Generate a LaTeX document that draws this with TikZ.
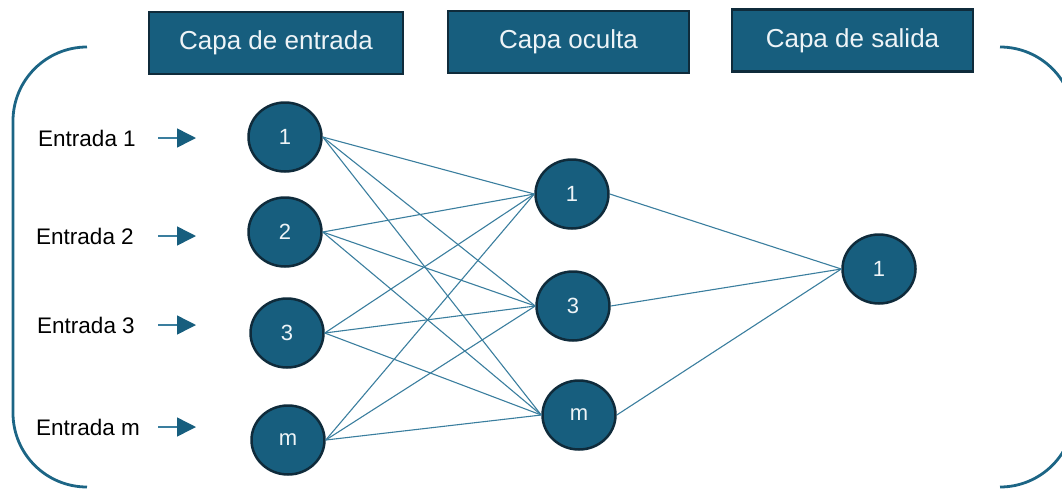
\documentclass[tikz,border=0pt]{standalone}
\usepackage{fontspec}
\setmainfont{Liberation Sans}
\usetikzlibrary{arrows.meta,shapes.geometric}
\definecolor{layerblue}{HTML}{175E7E}
\definecolor{edgenavy}{HTML}{0F2B3B}
\definecolor{wireblue}{HTML}{3A7E9E}
\definecolor{framecol}{HTML}{1C6585}
\definecolor{labeltext}{HTML}{EEF4F7}
\begin{document}
\begin{tikzpicture}[x=1pt,y=-1pt,
  header/.style={draw=edgenavy, line width=2.2pt, fill=layerblue, text=labeltext,
    minimum height=62pt, inner sep=0pt, font=\fontsize{26}{30}\selectfont},
  neuron/.style={ellipse, draw=edgenavy, line width=2.5pt, fill=layerblue, text=labeltext,
    minimum width=73pt, minimum height=69pt, inner sep=0pt, font=\fontsize{22}{26}\selectfont},
  inputlabel/.style={inner sep=0pt, text=black, font=\fontsize{22.5}{26}\selectfont},
  wire/.style={draw=wireblue, line width=1.1pt},
  inarrow/.style={draw=wireblue, line width=1.5pt,
    -{Triangle[length=19pt,width=19pt,color=layerblue]}},
  bracket/.style={draw=framecol, line width=2.8pt, rounded corners=74pt}]
\useasboundingbox (0,0) rectangle (1062,488);

% layer titles
\node[header, minimum width=254pt] (hin)  at (276,43)   {Capa de entrada};
\node[header, minimum width=241pt] (hhid) at (568.5,42) {Capa oculta};
\node[header, minimum width=241pt] (hout) at (852.5,40.5) {Capa de salida};

% enclosing brackets
\draw[bracket] (87,47) -- (13,47) -- (13,487) -- (87,487);
\draw[bracket] (1000,47) -- (1074,47) -- (1074,487) -- (1000,487);

% input layer
\node[neuron] (i1) at (285,137) {1};
\node[neuron] (i2) at (285,232) {2};
\node[neuron] (i3) at (287,333) {3};
\node[neuron] (im) at (288,440) {m};

% hidden layer
\node[neuron] (h1) at (572,194) {1};
\node[neuron] (h3) at (573,306) {3};
\node[neuron] (hm) at (579,415) {m};

% output layer
\node[neuron] (o1) at (879,269) {1};

% input labels and arrows
\node[inputlabel] (e1) at (87,138) {Entrada 1};
\node[inputlabel] (e2) at (85,236) {Entrada 2};
\node[inputlabel] (e3) at (86,325) {Entrada 3};
\node[inputlabel] (em) at (88,427) {Entrada m};
\coordinate (a1s) at (158,138); \coordinate (a1e) at (196,138);
\coordinate (a2s) at (158,236); \coordinate (a2e) at (196,236);
\coordinate (a3s) at (158,325); \coordinate (a3e) at (196,325);
\coordinate (ams) at (158,427); \coordinate (ame) at (196,427);
\draw[inarrow] (a1s) -- (a1e);
\draw[inarrow] (a2s) -- (a2e);
\draw[inarrow] (a3s) -- (a3e);
\draw[inarrow] (ams) -- (ame);

% input -> hidden connections
\foreach \i in {i1,i2,i3,im}
  \foreach \h in {h1,h3,hm}
    \draw[wire] (\i.east) -- (\h.west);

% hidden -> output connections
\foreach \h in {h1,h3,hm}
  \draw[wire] (\h.east) -- (o1.west);
\end{tikzpicture}
\end{document}
